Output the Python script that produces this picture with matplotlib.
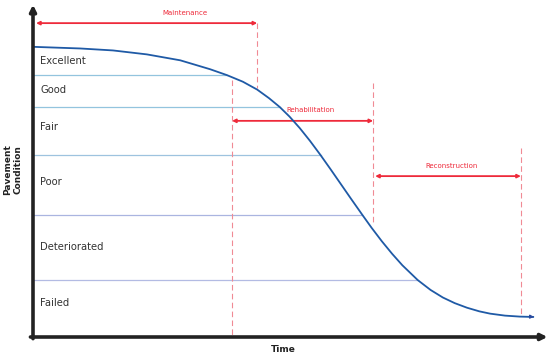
import numpy as np
import matplotlib
matplotlib.use("Agg")
import matplotlib.pyplot as plt

# deterioration curve (time %, condition %)
time = [0, 9.2, 15.6, 22.2, 28.7, 34.5, 37.8, 40.9, 43.7, 46, 48.1, 50, 52, 54, 56, 58, 60,
        62, 64.3, 66, 68, 70, 72, 75, 77.5, 79.9, 82.2, 84.6, 87, 89.1, 92, 94.9, 97.5]
cond = [88.2, 87.7, 87.1, 85.9, 84.1, 81.4, 79.6, 77.6, 75.2, 72.6, 69.9, 67.0, 63.5, 59.6,
        55.4, 51.0, 46.5, 42.0, 36.9, 33.2, 29.1, 25.3, 21.8, 17.3, 14.3, 12.0, 10.3, 8.9,
        7.8, 7.1, 6.5, 6.2, 6.1]

# condition class boundaries and labels
bounds = [79.6, 69.9, 55.3, 37.1, 17.3]
classes = ["Excellent", "Good", "Fair", "Poor", "Deteriorated", "Failed"]
class_y = [83.9, 75.1, 63.8, 47.1, 27.4, 10.3]

# treatment windows
treat_names = ["Maintenance", "Rehabilitation", "Reconstruction"]
treat_start = [0.6, 38.8, 66.7]
treat_end = [43.7, 66.3, 95.1]
treat_level = [95.4, 65.7, 48.9]
treat_label_x = [29.6, 54.0, 81.5]

red = "#ee2a3a"
red_light = "#f08a94"

fig = plt.figure(figsize=(5.5, 3.58), dpi=100)
ax = fig.add_axes([33 / 550, 21 / 358, 513 / 550, 329 / 358])
ax.set_xlim(0, 100)
ax.set_ylim(0, 100)
ax.axis("off")

# boundary lines, from the axis to the curve
t_rev = time[::-1]
c_rev = cond[::-1]
line_cols = ["#93c4de", "#93c4de", "#9ec3df", "#aab5e0", "#b3bbe3"]
for b, col in zip(bounds, line_cols):
    t_end = np.interp(b, c_rev, t_rev)
    ax.plot([0, t_end], [b, b], color=col, lw=0.9, zorder=2)

for name, y in zip(classes, class_y):
    ax.text(1.4, y, name, fontsize=7.2, color="#333333", va="center", ha="left")

# dashed guide lines
dash = (0, (5, 3))
ax.plot([43.7, 43.7], [95.4, 75.7], ls=dash, color=red_light, lw=0.8)
ax.plot([38.8, 38.8], [78.1, 0.6], ls=dash, color=red_light, lw=0.8)
ax.plot([66.3, 66.3], [77.2, 35.0], ls=dash, color=red_light, lw=0.8)
ax.plot([95.1, 95.1], [57.4, 6.4], ls=dash, color=red_light, lw=0.8)

# treatment arrows
for name, t0, t1, lv, lx in zip(treat_names, treat_start, treat_end, treat_level, treat_label_x):
    ax.annotate("", xy=(t1, lv), xytext=(t0, lv),
                arrowprops=dict(arrowstyle="<|-|>", color=red, lw=1.3,
                                mutation_scale=5, shrinkA=0, shrinkB=0))
    ax.text(lx, lv + 2.3, name, fontsize=5, color=red, ha="center", va="bottom")

# curve
ax.plot(time, cond, color="#1f5aa6", lw=1.3, zorder=3, solid_joinstyle="round")
ax.annotate("", xy=(98.2, 6.1), xytext=(96.5, 6.2),
            arrowprops=dict(arrowstyle="-|>", color="#2a4a9e", lw=1, mutation_scale=5))

# axes with arrows
ax.annotate("", xy=(0, 101), xytext=(0, -0.5), annotation_clip=False,
            arrowprops=dict(arrowstyle="-|>", color="#222222", lw=2.6,
                            mutation_scale=9, shrinkA=0, shrinkB=0))
ax.annotate("", xy=(100.3, 0), xytext=(-0.5, 0), annotation_clip=False,
            arrowprops=dict(arrowstyle="-|>", color="#222222", lw=2.6,
                            mutation_scale=9, shrinkA=0, shrinkB=0))

fig.text(13 / 550, 1 - 170 / 358, "Pavement\nCondition", rotation=90, fontsize=6.5,
         fontweight="bold", ha="center", va="center", color="#222222")
fig.text(283 / 550, 1 - 349 / 358, "Time", fontsize=6.5, fontweight="bold",
         ha="center", va="center", color="#222222")

fig.savefig("out.png", dpi=100)
